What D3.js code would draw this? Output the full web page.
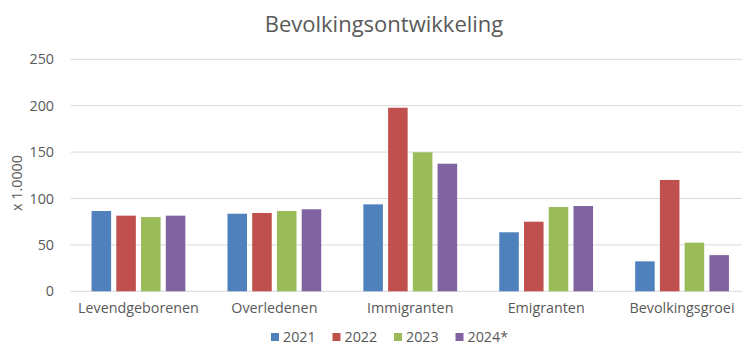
<!DOCTYPE html>
<html>
<head>
<meta charset="utf-8">
<script src="https://cdn.jsdelivr.net/npm/d3@7"></script>
<style>
  html, body { margin: 0; padding: 0; background: #fff; }
  svg { display: block; font-family: "Open Sans", "Liberation Sans", sans-serif; }
</style>
</head>
<body>
<svg id="chart" width="742" height="345"></svg>
<script>
// Population figures per category, in units of 1.000 persons
const categories = ["Levendgeborenen", "Overledenen", "Immigranten", "Emigranten", "Bevolkingsgroei"];
const seriesNames = ["2021", "2022", "2023", "2024*"];
const values2021 = [86.5, 83.6, 93.7, 63.6, 32.3];
const values2022 = [81.5, 84.4, 197.8, 75.0, 120.0];
const values2023 = [80.0, 86.5, 149.8, 90.8, 52.4];
const values2024 = [81.5, 88.4, 137.5, 91.9, 39.0];
const yTicks = [0, 50, 100, 150, 200, 250];
const colors = ["#4F81BD", "#C0504D", "#9BBB59", "#8064A2"];

const series = [values2021, values2022, values2023, values2024];

const svg = d3.select("#chart");
const margin = { left: 70.5, right: -8, top: 59.3, bottom: 53.7 };
const W = 742, H = 345;
const labelSize = 14.3;

const x0 = d3.scaleBand()
  .domain(categories)
  .range([margin.left, W - margin.right])
  .paddingInner(0.31)
  .paddingOuter(0.155);

const x1 = d3.scaleBand()
  .domain(seriesNames)
  .range([0, x0.bandwidth()])
  .paddingInner(0.21);

const y = d3.scaleLinear()
  .domain([0, 250])
  .range([H - margin.bottom, margin.top]);

// Gridlines
svg.append("g")
  .selectAll("line")
  .data(yTicks)
  .join("line")
  .attr("x1", margin.left)
  .attr("x2", W)
  .attr("y1", d => y(d))
  .attr("y2", d => y(d))
  .attr("stroke", "#d9d9d9")
  .attr("stroke-width", 1);

// Y axis labels
const yAxis = d3.axisLeft(y).tickValues(yTicks).tickSize(0).tickPadding(0);
svg.append("g")
  .attr("transform", `translate(54,0)`)
  .call(yAxis)
  .call(g => g.select(".domain").remove())
  .call(g => g.selectAll("text")
    .attr("fill", "#595959")
    .attr("font-size", labelSize)
    .attr("font-family", "'Open Sans', sans-serif"));

// Y axis title
svg.append("text")
  .attr("transform", `translate(22,183) rotate(-90)`)
  .attr("text-anchor", "middle")
  .attr("fill", "#595959")
  .attr("font-size", labelSize)
  .text("x 1.0000");

// Bars
const groups = svg.append("g")
  .selectAll("g")
  .data(categories)
  .join("g")
  .attr("transform", d => `translate(${x0(d)},0)`);

groups.selectAll("rect")
  .data((c, i) => seriesNames.map((s, j) => ({ s, v: series[j][i], j })))
  .join("rect")
  .attr("x", d => x1(d.s))
  .attr("width", x1.bandwidth())
  .attr("y", d => y(d.v))
  .attr("height", d => y(0) - y(d.v))
  .attr("fill", d => colors[d.j]);

// X axis labels
const xAxis = d3.axisBottom(x0).tickSize(0).tickPadding(0);
svg.append("g")
  .attr("transform", `translate(0,${y(0) + 12})`)
  .call(xAxis)
  .call(g => g.select(".domain").remove())
  .call(g => g.selectAll("text")
    .attr("fill", "#595959")
    .attr("font-size", labelSize)
    .attr("font-family", "'Open Sans', sans-serif"));

// Title
svg.append("text")
  .attr("x", 384)
  .attr("y", 32)
  .attr("text-anchor", "middle")
  .attr("fill", "#595959")
  .attr("font-size", 22)
  .text("Bevolkingsontwikkeling");

// Legend
const legend = svg.append("g")
  .selectAll("g")
  .data(seriesNames)
  .join("g")
  .attr("transform", (d, i) => `translate(${271 + i * 61.5},333)`);

legend.append("rect")
  .attr("width", 8)
  .attr("height", 8)
  .attr("fill", (d, i) => colors[i]);

legend.append("text")
  .attr("x", 12)
  .attr("y", 9)
  .attr("fill", "#595959")
  .attr("font-size", labelSize)
  .text(d => d);
</script>
</body>
</html>
